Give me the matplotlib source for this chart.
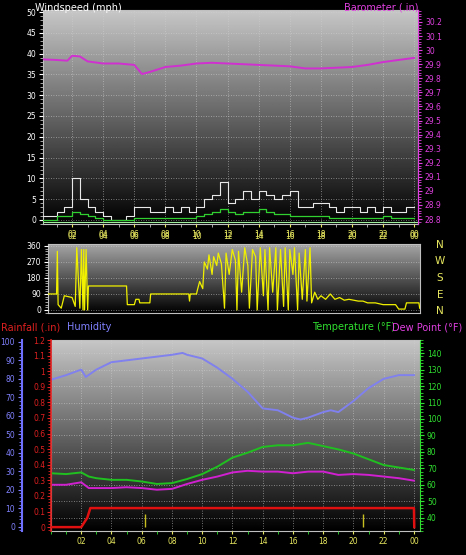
import numpy as np
import matplotlib
matplotlib.use("Agg")
import matplotlib.pyplot as plt
from matplotlib.ticker import MultipleLocator

# ---------------- data ----------------
hour_ticks = [2, 4, 6, 8, 10, 12, 14, 16, 18, 20, 22, 24]
hour_labels = ["02", "04", "06", "08", "10", "12", "14", "16", "18", "20", "22", "00"]

wind_hours = [i * 0.5 for i in range(49)]
wind_gust = [1, 1, 2, 3, 10, 5, 3, 2, 1, 0, 0, 1, 3, 3, 2, 2, 3, 2, 3, 2, 3, 5, 6, 9, 4,
             5, 7, 5, 7, 6, 5, 6, 7, 3, 3, 4, 4, 3, 2, 3, 3, 2, 3, 2, 3, 2, 2, 3, 3]
wind_avg = [0, 0, 1, 1, 2, 1.5, 1, 0.5, 0, 0, 0, 0, 0.5, 0.5, 0.5, 0.5, 0.5, 0.5, 0.5, 0.5,
            1, 1.5, 2, 2.5, 2, 1.5, 2, 2, 2.5, 2, 1.5, 1.5, 1, 1, 1, 1, 1, 0.5, 0.5, 0.5,
            0.5, 0.5, 0.5, 0.5, 1, 0.5, 0.5, 0.5, 0.5]

baro_hours = [0, 1, 1.7, 2, 2.5, 3, 4, 5, 6, 6.5, 7, 8, 9, 10, 11, 12, 13, 14, 15, 16, 17, 18, 19, 20, 21, 22, 23, 24]
baro = [29.935, 29.93, 29.925, 29.96, 29.955, 29.92, 29.905, 29.905, 29.895, 29.83, 29.845,
        29.88, 29.89, 29.905, 29.91, 29.905, 29.9, 29.895, 29.89, 29.885, 29.87, 29.87,
        29.875, 29.88, 29.895, 29.915, 29.93, 29.945]

dir_hours = [0.45, 1.0, 1.05, 1.1, 1.3, 1.5, 2.0, 2.2, 2.3, 2.5, 2.6, 2.7, 2.75, 2.8, 2.9, 3.0,
             3.05, 5.5, 5.55, 6.0, 6.1, 6.3, 6.35, 7.0, 7.05, 9.5, 9.55, 9.6, 10.0, 10.05, 10.2,
             10.4, 10.5, 10.7, 10.8, 11.0, 11.1, 11.3, 11.4, 11.6, 11.8, 11.9, 12.1, 12.3, 12.5,
             12.6, 12.7, 12.9, 13.1, 13.3, 13.4, 13.6, 13.8, 13.9, 14.1, 14.3, 14.4, 14.6, 14.7,
             14.9, 15.1, 15.2, 15.4, 15.6, 15.7, 15.9, 16.0, 16.2, 16.3, 16.5, 16.6, 16.8, 17.0,
             17.1, 17.3, 17.4, 17.6, 17.8, 18.0, 18.3, 18.6, 18.9, 19.2, 19.5, 19.8, 20.1, 20.4,
             20.7, 21.0, 21.5, 22.0, 22.8, 23.0, 23.4, 23.5, 24.3, 24.35]
wind_dir = [90, 90, 330, 30, 10, 80, 70, 20, 350, 10, 340, 0, 340, 0, 340, 0,
            135, 135, 30, 30, 60, 60, 40, 40, 90, 90, 50, 90, 90, 110, 160,
            120, 270, 230, 310, 200, 300, 250, 320, 260, 10, 320, 200, 340, 280,
            0, 330, 100, 350, 250, 10, 340, 300, 0, 350, 80, 340, 0, 350,
            100, 350, 0, 340, 20, 350, 0, 340, 200, 350, 0, 320, 60, 340,
            50, 350, 40, 100, 60, 80, 60, 90, 60, 70, 55, 60, 55, 50,
            50, 40, 40, 30, 30, 5, 5, 40, 40, 10]

hum_hours = [0, 1, 2, 2.3, 3, 4, 5, 6, 7, 8, 8.7, 9, 10, 11, 12, 13, 14, 15, 16, 16.5, 17, 18, 18.5, 19, 20, 21, 22, 23, 24]
humidity = [79.5, 82, 85, 81, 85, 89, 90, 91, 92, 93, 94, 93, 91, 86, 80, 73, 64, 63, 59, 58,
            59, 62, 63, 62, 68, 75, 80, 82, 82]

temp_hours = [0, 1, 2, 2.5, 3, 4, 5, 6, 7, 8, 9, 10, 11, 12, 13, 14, 15, 16, 17, 18, 19, 20, 21, 22, 23, 24]
temperature = [67, 66.5, 67.5, 65, 64, 63, 63, 62, 60.5, 61, 63.5, 66.5, 71, 76.5, 79.5, 83, 84, 84, 85.5,
               83.5, 81.5, 79, 75.5, 72, 70.5, 69]
dew_point = [60, 60, 61.5, 58, 58, 58, 58.5, 58, 57, 57.5, 60.5, 63, 65, 67.5, 68.5, 68, 68, 67, 68,
             68, 66, 66.5, 66, 65, 64, 62.5]

rain_hours = [0, 2.0, 2.2, 2.4, 2.6, 24.0, 24.02]
rainfall = [0, 0, 0.03, 0.06, 0.122, 0.122, 0]
rate_hours = [6.2, 20.6]
rate_height = [0.087, 0.087]

# ---------------- layout ----------------
W, H = 466, 555
fig = plt.figure(figsize=(W / 100, H / 100), dpi=100, facecolor="black")


def px(l, t, r, b):
    return [l / W, 1 - b / H, (r - l) / W, (b - t) / H]


def gradient(ax, top=0.78, bottom=0.0):
    g = np.linspace(top, bottom, 256).reshape(-1, 1)
    ax.imshow(g, cmap="gray", vmin=0, vmax=1, aspect="auto", extent=[0, 1, 0, 1],
              transform=ax.transAxes, zorder=0, interpolation="bilinear")


def style(ax):
    ax.set_facecolor("black")
    for s in ax.spines.values():
        s.set_color("#c0c0c0")
        s.set_linewidth(0.8)


def grid(ax, axis="both"):
    ax.grid(False, which="both")
    ax.grid(True, which="major", axis=axis, color="#d0d0d0", linestyle=(0, (1, 2)),
            linewidth=0.6, alpha=0.7)
    ax.set_axisbelow(False)


FS = 5.5
YEL = "#e8e860"

# ---- top panel ----
ax1 = fig.add_axes(px(43, 10, 418, 224))
style(ax1)
gradient(ax1)
ax1.step(wind_hours, wind_gust, where="post", color="#e8e8e8", lw=0.8, zorder=3)
ax1.step(wind_hours, wind_avg, where="post", color="#30d030", lw=0.9, zorder=4)
ax1.axhline(-0.6, color="#a0f0a0", lw=0.8, zorder=4)

ax1b = ax1.twinx()
ax1b.xaxis.set_visible(False)
ax1b.set_ylim(28.765, 30.285)
bt = np.round(np.arange(28.8, 30.21, 0.1), 1)
ax1b.set_yticks(bt)
ax1b.set_yticklabels([f"{v:g}" for v in bt])
ax1b.yaxis.set_minor_locator(MultipleLocator(0.02))
ax1b.tick_params(axis="y", colors="#e040e0", labelsize=FS, length=3, pad=2)
ax1b.tick_params(which="minor", length=2, colors="#e040e0")
ax1b.spines["right"].set_color("#e040e0")
for k in ("left", "top", "bottom"):
    ax1b.spines[k].set_visible(False)
ax1b.plot(baro_hours, baro, color="#d030d0", lw=1.4, zorder=5)

ax1.set_xlim(0.13, 24.25)
ax1.set_ylim(-1, 50.5)
ax1.set_xticks(hour_ticks)
ax1.set_xticklabels(hour_labels)
ax1.xaxis.set_minor_locator(MultipleLocator(1))
ax1.yaxis.tick_left()
ax1.set_yticks(range(0, 51, 5))
ax1.yaxis.set_minor_locator(MultipleLocator(1))
ax1.tick_params(axis="x", colors=YEL, labelsize=FS, length=2, pad=2)
ax1.tick_params(axis="y", colors="white", labelsize=FS, length=3, pad=2)
ax1.tick_params(which="minor", length=2, colors="#c0c0c0")
grid(ax1)

fig.text(35 / W, 1 - 8 / H, "Windspeed (mph)", color="white", fontsize=7, va="center")
fig.text(418 / W, 1 - 8 / H, "Barometer (.in)", color="#e040e0", fontsize=7, va="center", ha="right")

# ---- middle panel ----
ax2 = fig.add_axes(px(48, 244, 420, 313))
style(ax2)
gradient(ax2, top=0.65)
ax2.plot(dir_hours, wind_dir, color="#f0f000", lw=0.9, zorder=3)
ax2.set_xlim(0.45, 24.37)
ax2.set_ylim(-17, 371)
ax2.set_xticks(hour_ticks)
ax2.set_xticklabels(hour_labels)
ax2.xaxis.tick_top()
ax2.set_yticks([0, 90, 180, 270, 360])
ax2.yaxis.set_minor_locator(MultipleLocator(15))
ax2.tick_params(axis="x", colors=YEL, labelsize=FS, length=0, pad=2)
ax2.tick_params(axis="y", colors="white", labelsize=FS, length=3, pad=2)
ax2.tick_params(which="minor", length=2, colors="#c0c0c0")
grid(ax2, axis="y")
for lab, yy in zip(["N", "W", "S", "E", "N"], [245, 261, 278, 295, 311]):
    fig.text(440 / W, 1 - yy / H, lab, color=YEL, fontsize=7.5, ha="center", va="center")

# ---- bottom panel ----
ax3 = fig.add_axes(px(51, 340, 420, 531))
style(ax3)
gradient(ax3)

# humidity axis (blue, left, outward)
axh = ax3.twinx()
axr = ax3.twinx()

axh.set_ylim(-2.3, 101)
axh.yaxis.tick_left()
axh.xaxis.set_visible(False)
axh.spines["left"].set_visible(True)
axh.spines["left"].set_position(("outward", 21))
axh.spines["left"].set_color("#7070ff")
axh.spines["left"].set_linewidth(1.5)
for k in ("right", "top", "bottom"):
    axh.spines[k].set_visible(False)
axh.set_yticks(range(0, 101, 10))
axh.yaxis.set_minor_locator(MultipleLocator(2))
axh.tick_params(axis="y", colors="#8080ff", labelsize=FS, length=3, pad=2)
axh.tick_params(which="minor", length=2, colors="#8080ff")
axh.plot(hum_hours, humidity, color="#8080ee", lw=1.4, zorder=4)

# rain axis (red, left)
axr.set_ylim(-0.025, 1.2)
axr.yaxis.tick_left()
axr.xaxis.set_visible(False)
axr.spines["left"].set_visible(True)
axr.spines["left"].set_color("#e02020")
axr.spines["left"].set_linewidth(1.2)
for k in ("right", "top", "bottom"):
    axr.spines[k].set_visible(False)
rt = np.round(np.arange(0, 1.21, 0.1), 1)
axr.set_yticks(rt)
axr.set_yticklabels([f"{v:g}" for v in rt])
axr.yaxis.set_minor_locator(MultipleLocator(0.02))
axr.tick_params(axis="y", colors="#e02020", labelsize=FS, length=3, pad=1)
axr.tick_params(which="minor", length=2, colors="#e02020")
axr.plot(rain_hours, rainfall, color="#e01010", lw=1.8, zorder=5)
axr.vlines(rate_hours, 0, rate_height, color="#c8c020", lw=1.0, zorder=5)

# temperature axis (green, right) on ax3
ax3.plot(temp_hours, temperature, color="#20c020", lw=1.4, zorder=4)
ax3.plot(temp_hours, dew_point, color="#d020d0", lw=1.4, zorder=4)
ax3.set_xlim(0, 24.4)
ax3.set_ylim(31.9, 148)
ax3.set_xticks(hour_ticks)
ax3.set_xticklabels(hour_labels)
ax3.xaxis.set_minor_locator(MultipleLocator(1))
ax3.yaxis.tick_right()
ax3.set_yticks(range(40, 141, 10))
ax3.yaxis.set_minor_locator(MultipleLocator(2))
ax3.tick_params(axis="x", colors=YEL, labelsize=FS, length=2, pad=2)
ax3.tick_params(axis="y", colors="#30e030", labelsize=FS, length=3, pad=2)
ax3.tick_params(which="minor", length=2, colors="#30e030")
ax3.spines["right"].set_color("#30e030")
grid(ax3)

fig.text(1 / W, 1 - 327 / H, "Rainfall (.in)", color="#e02020", fontsize=7, va="center")
fig.text(67 / W, 1 - 327 / H, "Humidity", color="#8080ff", fontsize=7, va="center")
fig.text(312 / W, 1 - 327 / H, "Temperature (°F)", color="#30e030", fontsize=7, va="center")
fig.text(392 / W, 1 - 327 / H, "Dew Point (°F)", color="#e040e0", fontsize=7, va="center")

fig.savefig("out.png", dpi=100, facecolor="black")
